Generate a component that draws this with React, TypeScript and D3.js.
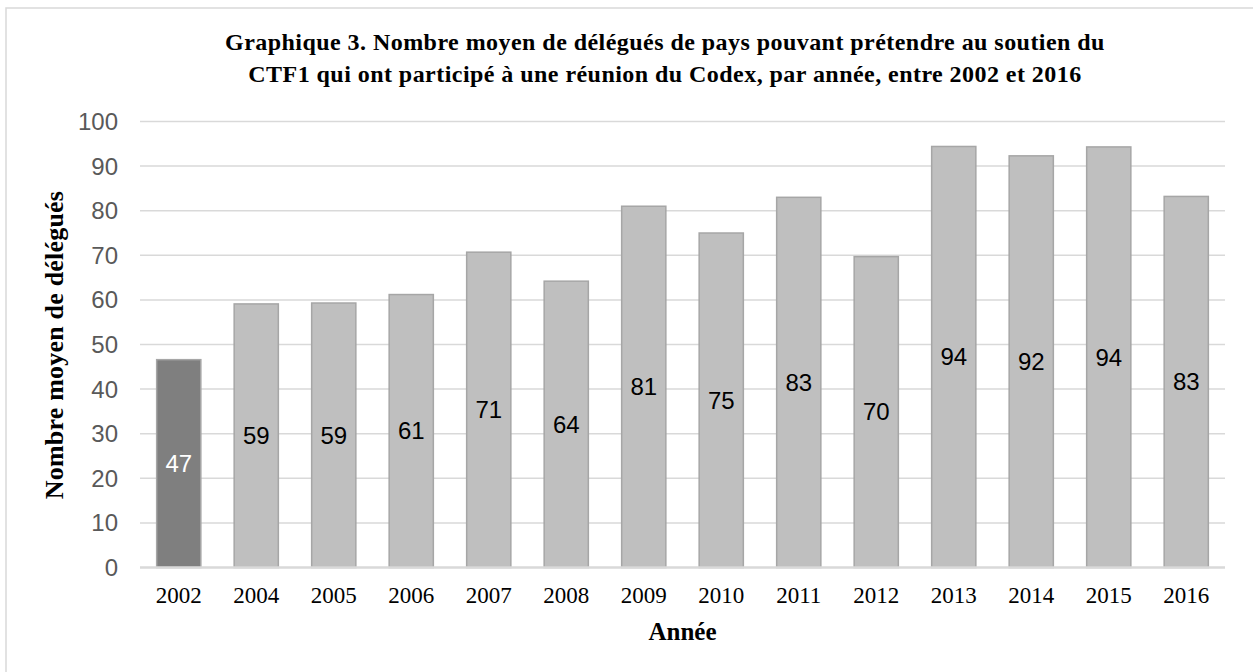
import React from 'react';
import * as d3 from 'd3';

const years = ['2002', '2004', '2005', '2006', '2007', '2008', '2009', '2010', '2011', '2012', '2013', '2014', '2015', '2016'];
const delegates = [46.6, 59.1, 59.3, 61.2, 70.7, 64.2, 81.0, 75.0, 83.0, 69.7, 94.4, 92.3, 94.3, 83.2];
const yTicks = [0, 10, 20, 30, 40, 50, 60, 70, 80, 90, 100];
const titleLines = [
  'Graphique 3. Nombre moyen de délégués de pays pouvant prétendre au soutien du',
  'CTF1 qui ont participé à une réunion du Codex, par année, entre 2002 et 2016',
];

const W = 1253;
const H = 672;
const margin = { top: 121.5, right: 28, bottom: 104.5, left: 140 };

const serif = '"Liberation Serif", "Times New Roman", serif';
const sans = '"Liberation Sans", Arial, sans-serif';

export default function App() {
  const x = d3
    .scaleBand<string>()
    .domain(years)
    .range([margin.left, W - margin.right])
    .paddingInner(0.43)
    .paddingOuter(0.215);

  const y = d3
    .scaleLinear()
    .domain([0, 100])
    .range([H - margin.bottom, margin.top]);

  const midX = (margin.left + W - margin.right) / 2;

  return (
    <svg width={W} height={H} style={{ position: 'absolute', left: 0, top: 0, background: '#fff' }}>
      <rect x={6} y={8} width={W + 10} height={H + 10} fill="#fff" stroke="#d9d9d9" strokeWidth={1.5} />

      {/* title */}
      <text textAnchor="middle" fontFamily={serif} fontWeight="bold" fontSize={24} letterSpacing={0.45} fill="#000">
        {titleLines.map((t, i) => (
          <tspan key={i} x={665} y={50 + i * 32}>
            {t}
          </tspan>
        ))}
      </text>

      {/* gridlines + y labels */}
      {yTicks.map((t) => (
        <g key={t}>
          {t > 0 && (
            <line x1={margin.left} x2={W - margin.right} y1={y(t)} y2={y(t)} stroke="#d9d9d9" strokeWidth={1.5} />
          )}
          <text x={118} y={y(t)} dy="0.35em" textAnchor="end" fontFamily={sans} fontSize={24} fill="#595959">
            {t}
          </text>
        </g>
      ))}

      {/* bars */}
      {years.map((yr, i) => (
        <rect
          key={yr}
          x={x(yr)}
          y={y(delegates[i])}
          width={x.bandwidth()}
          height={y(0) - y(delegates[i])}
          fill={i === 0 ? '#7f7f7f' : '#bfbfbf'}
          stroke="#a6a6a6"
          strokeWidth={1.5}
        />
      ))}

      {/* baseline */}
      <line x1={margin.left} x2={W - margin.right} y1={y(0)} y2={y(0)} stroke="#d9d9d9" strokeWidth={2.5} />

      {/* value labels */}
      {years.map((yr, i) => (
        <text
          key={yr}
          x={(x(yr) as number) + x.bandwidth() / 2}
          y={y(delegates[i] / 2)}
          dy="0.35em"
          textAnchor="middle"
          fontFamily={sans}
          fontSize={24}
          fill={i === 0 ? '#fff' : '#000'}
        >
          {Math.round(delegates[i])}
        </text>
      ))}

      {/* x labels */}
      {years.map((yr) => (
        <text
          key={yr}
          x={(x(yr) as number) + x.bandwidth() / 2}
          y={603}
          textAnchor="middle"
          fontFamily={serif}
          fontSize={23}
          fill="#000"
        >
          {yr}
        </text>
      ))}

      <text x={midX} y={640} textAnchor="middle" fontFamily={serif} fontWeight="bold" fontSize={25} fill="#000">
        Année
      </text>

      <text
        transform={`translate(63, 345) rotate(-90)`}
        textAnchor="middle"
        fontFamily={serif}
        fontWeight="bold"
        fontSize={26}
        letterSpacing={0.2}
        fill="#000"
      >
        Nombre moyen de délégués
      </text>
    </svg>
  );
}
